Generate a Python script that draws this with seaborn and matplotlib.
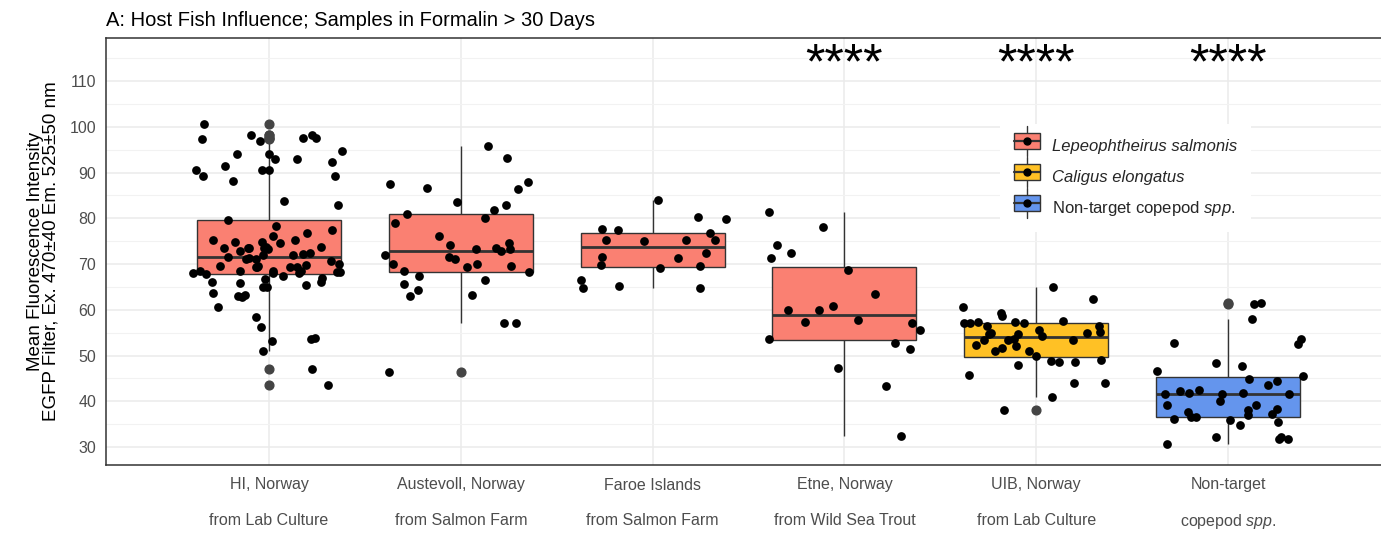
import numpy as np
import pandas as pd
import matplotlib
matplotlib.use("Agg")
import matplotlib.pyplot as plt
import seaborn as sns
from matplotlib.legend_handler import HandlerBase
from matplotlib.patches import Rectangle, Patch
from matplotlib.lines import Line2D
from matplotlib.ticker import MultipleLocator

# ---- data -------------------------------------------------------------
sites = [
    "HI, Norway\nfrom Lab Culture",
    "Austevoll, Norway\nfrom Salmon Farm",
    "Faroe Islands\nfrom Salmon Farm",
    "Etne, Norway\nfrom Wild Sea Trout",
    "UIB, Norway\nfrom Lab Culture",
    "Non-target\ncopepod $\\it{spp.}$",
]
species_of_site = [
    "Lepeophtheirus salmonis", "Lepeophtheirus salmonis", "Lepeophtheirus salmonis",
    "Lepeophtheirus salmonis", "Caligus elongatus", "Non-target copepod spp.",
]
species_names = ["Lepeophtheirus salmonis", "Caligus elongatus", "Non-target copepod spp."]
species_labels = ["Lepeophtheirus salmonis", "Caligus elongatus", "Non-target copepod $\\it{spp.}$"]
species_colors = ["#FA8072", "#FFC125", "#6495ED"]

hi_norway = [100.5, 98.3, 96.8, 97.5, 94.7, 92.9, 90.5, 89.2, 88.1, 94.1, 92.9, 97.5,
             98.1, 97.4, 94.1, 92.3, 91.4, 90.5, 89.2, 90.5, 83.8, 82.8, 79.6, 78.3,
             77.4, 75.3, 76.2, 76.8, 75.3, 73.5, 73.5, 73.2, 73.6, 73.7, 73.5, 73.7,
             72.5, 72.8, 74.7, 74.8, 74.8, 71.0, 72.0, 71.3, 72.0, 72.1, 71.0, 70.7,
             69.6, 69.8, 69.4, 69.6, 69.4, 68.4, 69.4, 68.1, 67.8, 68.4, 68.0, 68.1,
             69.9, 69.3, 68.5, 68.5, 67.4, 71.6, 68.3, 68.2, 66.9, 66.8, 66.1, 66.1,
             65.9, 64.9, 65.5, 64.9, 63.7, 63.2, 62.8, 62.9, 60.7, 58.5, 56.3, 53.7,
             53.9, 53.1, 51.0, 47.0, 43.5]
austevoll = [95.9, 93.1, 87.9, 87.4, 86.4, 86.6, 83.6, 83.0, 81.8, 80.9, 80.1, 78.9,
             76.2, 74.7, 74.1, 73.2, 73.4, 73.2, 72.8, 71.9, 71.6, 71.0, 70.1, 69.3,
             70.1, 69.6, 68.3, 68.4, 67.4, 66.6, 65.7, 64.3, 63.2, 62.9, 57.0, 57.0,
             46.4]
faroe = [84.1, 80.2, 79.8, 77.4, 77.6, 76.7, 75.2, 75.2, 75.0, 75.2, 72.3, 71.6,
         71.3, 69.5, 69.2, 69.8, 66.6, 65.2, 64.7, 64.7]
etne = [81.4, 78.0, 74.1, 72.3, 71.3, 68.6, 63.5, 60.8, 59.9, 59.9, 57.7, 57.1,
        55.6, 57.4, 53.7, 52.7, 51.5, 47.3, 43.3, 32.3]
uib = [64.9, 62.4, 60.7, 59.4, 58.6, 57.4, 56.4, 57.0, 57.6, 57.0, 57.4, 57.0,
       56.4, 55.5, 54.3, 53.4, 53.4, 53.5, 54.7, 53.6, 54.7, 54.9, 55.2, 54.9,
       52.4, 52.1, 51.0, 51.0, 51.6, 50.0, 49.0, 47.9, 48.5, 48.9, 48.5, 45.7,
       43.9, 43.9, 40.9, 38.1]
non_target = [61.3, 61.5, 58.0, 52.8, 53.7, 52.5, 48.4, 47.6, 46.7, 45.5, 44.5, 44.9,
              43.6, 42.2, 42.4, 41.8, 41.8, 41.5, 41.5, 41.6, 40.0, 39.1, 39.1, 38.4,
              38.0, 37.6, 37.3, 36.1, 35.5, 34.8, 36.5, 35.8, 37.0, 36.6, 32.1, 32.1,
              31.8, 31.8, 30.7]
site_values = [hi_norway, austevoll, faroe, etne, uib, non_target]
significance = ["", "", "", "****", "****", "****"]

df = pd.DataFrame({
    "site": np.concatenate([[s] * len(v) for s, v in zip(sites, site_values)]),
    "species": np.concatenate([[sp] * len(v) for sp, v in zip(species_of_site, site_values)]),
    "value": np.concatenate(site_values),
})

# ---- style ------------------------------------------------------------
sns.set_theme(style="white")
plt.rcParams["font.family"] = ["Liberation Sans", "DejaVu Sans"]
plt.rcParams["mathtext.fontset"] = "custom"
plt.rcParams["mathtext.rm"] = "Liberation Sans"
plt.rcParams["mathtext.it"] = "Liberation Sans:italic"

edge = "#333333"
tickc = "#4D4D4D"

W, H = 1381, 533
fig = plt.figure(figsize=(W / 100, H / 100), dpi=100)
# panel runs a little past the right edge of the canvas
ax = fig.add_axes([106 / W, 1 - 465 / H, (1392 - 106) / W, (465 - 38) / H])

palette = dict(zip(species_names, species_colors))
sns.boxplot(data=df, x="site", y="value", hue="species", order=sites, palette=palette,
            dodge=False, width=0.75, linecolor=edge, linewidth=1.0, showcaps=False,
            whis=1.5, legend=False, ax=ax, saturation=1,
            flierprops=dict(marker="o", markersize=6.3, markerfacecolor="#444444",
                            markeredgecolor="#444444"),
            medianprops=dict(linewidth=2.0, color=edge),
            boxprops=dict(zorder=2), whiskerprops=dict(zorder=1))

np.random.seed(7)
sns.stripplot(data=df, x="site", y="value", order=sites, color="black", size=6.3,
              jitter=0.4, linewidth=0, ax=ax, zorder=4)

ax.set_xlim(-0.85, 5.855)
ax.set_ylim(26.07, 119.4)
ax.yaxis.set_major_locator(MultipleLocator(10))
ax.yaxis.set_minor_locator(MultipleLocator(5))
ax.set_axisbelow(True)
ax.grid(True, which="major", color="#EBEBEB", linewidth=1.1)
ax.grid(True, which="minor", axis="y", color="#F2F2F2", linewidth=0.8)
for sp in ax.spines.values():
    sp.set_color(edge)
    sp.set_linewidth(1.1)

ax.tick_params(axis="both", which="major", length=4, width=1.0, color=edge,
               labelcolor=tickc, labelsize=11.5, pad=3)
ax.tick_params(axis="y", which="minor", length=0)
ax.tick_params(axis="x", pad=5)
for lab in ax.get_xticklabels():
    # the mathtext line is taller, so its label gets tighter spacing
    lab.set_linespacing(2.38 if "$" in lab.get_text() else 2.68)

ax.set_xlabel("")
ax.set_ylabel("Mean Fluorescence Intensity\nEGFP Filter, Ex. 470\u00b140 Em. 525\u00b150 nm",
              fontsize=13.5, color="black", linespacing=0.95, labelpad=7)
ax.set_title("A: Host Fish Influence; Samples in Formalin > 30 Days", loc="left",
             fontsize=14.5, color="black", pad=9)

for i, s in enumerate(significance):
    if s:
        ax.text(i, 110.5, s, ha="center", va="baseline", fontsize=36,
                fontweight="normal", color="black")


# ---- legend with boxplot-style keys -------------------------------------
class BoxKey(HandlerBase):
    def create_artists(self, legend, orig, xd, yd, w, h, fontsize, trans):
        fc = orig.get_facecolor()
        cx = xd + w / 2
        whisk = Line2D([cx, cx], [yd - 0.45 * h, yd + 1.45 * h], color=edge, lw=1.0,
                       transform=trans)
        box = Rectangle((xd, yd), w, h, facecolor=fc, edgecolor=edge, lw=1.0,
                        transform=trans)
        med = Line2D([xd, xd + w], [yd + h / 2] * 2, color=edge, lw=1.6, transform=trans)
        dot = Line2D([cx], [yd + h / 2], marker="o", color="black", ms=5, lw=0,
                     transform=trans)
        return [whisk, box, med, dot]


handles = [Patch(facecolor=c) for c in species_colors]
leg = fig.legend(handles, species_labels, handler_map={Patch: BoxKey()},
                 loc="upper left", bbox_to_anchor=(992 / W, 1 - 116 / H),
                 frameon=True, fancybox=False, facecolor="white", edgecolor="none",
                 framealpha=1, fontsize=12, handlelength=1.6, handleheight=1.1,
                 labelspacing=0.85, handletextpad=0.7, borderpad=0.8)
for t in leg.get_texts()[:2]:
    t.set_fontstyle("italic")

fig.savefig("out.png", dpi=100)
